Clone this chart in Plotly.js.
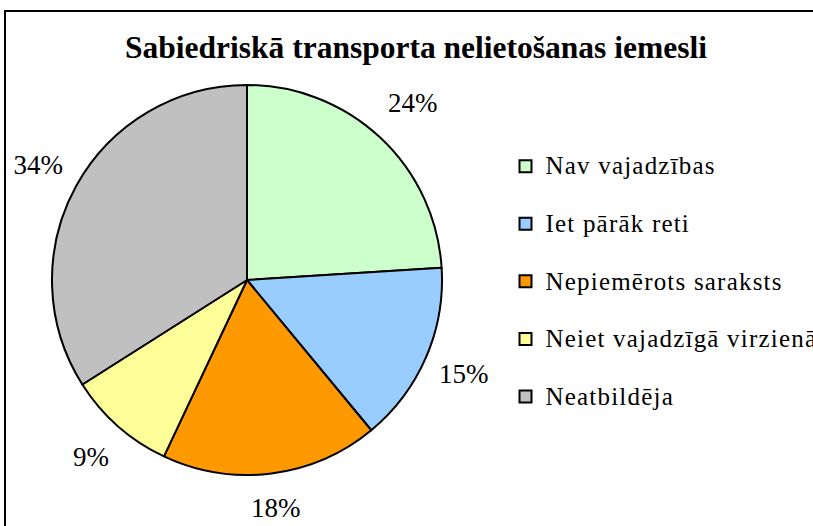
<!DOCTYPE html>
<html>
<head>
<meta charset="utf-8">
<script src="https://cdn.plot.ly/plotly-3.0.1.min.js"></script>
<style>
  html, body { margin: 0; padding: 0; background: #ffffff; overflow: hidden; width: 813px; height: 526px; }
  #chart { position: absolute; left: -60px; top: -60px; width: 933px; height: 646px; }
</style>
</head>
<body>
<div id="chart"></div>
<script>
// ---- data ----
const categories = ["Nav vajadzības", "Iet pārāk reti", "Nepiemērots saraksts", "Neiet vajadzīgā virzienā", "Neatbildēja"];
const percents = [24, 15, 18, 9, 34];
const sliceColors = ["#CCFFCC", "#99CCFF", "#FF9900", "#FFFF99", "#C0C0C0"];
const chartTitle = "Sabiedriskā transporta nelietošanas iemesli";

// ---- style: how far each percentage label sits out from the ring ----
const labelPull = [0.0446, 0.0229, 0, 0.0218, 0.0307];

// ---- canvas geometry (page is larger than the window and shifted by OFF) ----
const OFF = 60, W = 813 + 2 * OFF, H = 526 + 2 * OFF;
const px = v => (v + OFF) / W;          // visible x pixel -> paper
const py = v => 1 - (v + OFF) / H;      // visible y pixel -> paper

const cx = 247, cy = 280, R = 195;      // pie placement
const RL = 280;                          // outer radius of label ring
const RLbox = RL * (1 + Math.max(...labelPull));
const ringMid = 229.7;                   // radius of label centres (before pull)

const serif = "Liberation Serif, Times New Roman, serif";

const legendLabels = categories.map(c =>
  '<span style="font-size:25px;letter-spacing:1.2px">' + c + '</span><br> ');

const mainPie = {
  type: "pie",
  values: percents,
  labels: legendLabels,
  sort: false,
  direction: "clockwise",
  rotation: 0,
  marker: { colors: sliceColors, line: { color: "#000000", width: 2 } },
  textinfo: "none",
  hoverinfo: "skip",
  domain: { x: [px(cx - R), px(cx + R)], y: [py(cy + R), py(cy - R)] },
  showlegend: true
};

// transparent ring around the pie that carries the percentage labels
const labelRing = {
  type: "pie",
  values: percents,
  labels: categories,
  sort: false,
  direction: "clockwise",
  rotation: 0,
  hole: 2 * ringMid / RL - 1,
  pull: labelPull,
  marker: { colors: percents.map(() => "rgba(0,0,0,0)"), line: { width: 0 } },
  texttemplate: "%{value}%",
  textposition: "inside",
  insidetextorientation: "horizontal",
  textfont: { family: serif, size: 27, color: "#000000" },
  hoverinfo: "skip",
  domain: { x: [px(cx - RLbox), px(cx + RLbox)], y: [py(cy + RLbox), py(cy - RLbox)] },
  showlegend: false
};

const layout = {
  width: W, height: H,
  margin: { l: 0, r: 0, t: 0, b: 0 },
  paper_bgcolor: "#ffffff",
  plot_bgcolor: "#ffffff",
  title: {
    text: "<b>" + chartTitle + "</b>",
    x: px(416), xanchor: "center",
    y: py(47), yanchor: "middle", yref: "paper",
    font: { family: serif, size: 31.5, color: "#000000" }
  },
  legend: {
    x: px(505.5), xanchor: "left",
    y: py(146), yanchor: "top",
    valign: "top",
    font: { family: serif, size: 21, color: "#000000" },
    bgcolor: "rgba(0,0,0,0)",
    borderwidth: 0,
    traceorder: "normal"
  },
  shapes: [{
    type: "rect", xref: "paper", yref: "paper",
    x0: px(5), x1: px(830), y0: py(545), y1: py(11),
    line: { color: "#000000", width: 2 },
    fillcolor: "rgba(0,0,0,0)"
  }]
};

Plotly.newPlot("chart", [labelRing, mainPie], layout, { displayModeBar: false, staticPlot: true });
</script>
</body>
</html>
